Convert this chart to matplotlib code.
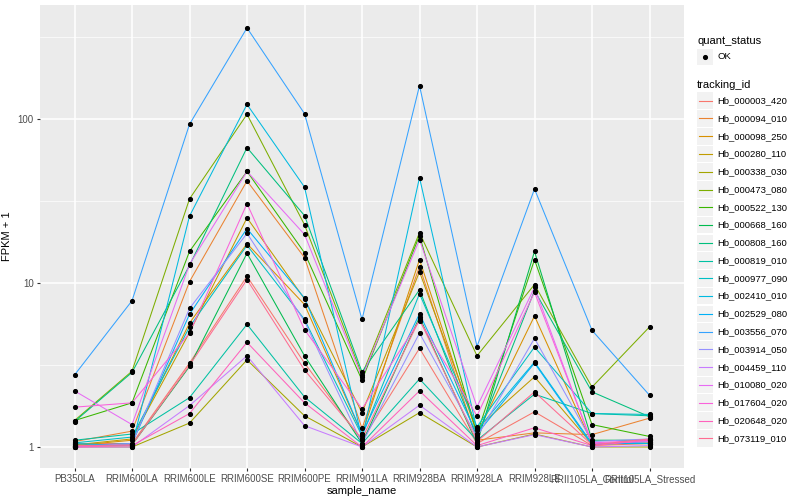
import matplotlib
matplotlib.use("Agg")
import matplotlib.pyplot as plt
from matplotlib.patches import Rectangle
from matplotlib.lines import Line2D

plt.rcParams['font.family'] = ['Liberation Sans', 'DejaVu Sans']

# samples on the x axis
samples = ["PB350LA", "RRIM600LA", "RRIM600LE", "RRIM600SE", "RRIM600PE", "RRIM901LA",
           "RRIM928BA", "RRIM928LA", "RRIM928LE", "RRII105LA_Control", "RRII105LA_Stressed"]

tracking_ids = ["Hb_000003_420", "Hb_000094_010", "Hb_000098_250", "Hb_000280_110",
                "Hb_000338_030", "Hb_000473_080", "Hb_000522_130", "Hb_000668_160",
                "Hb_000808_160", "Hb_000819_010", "Hb_000977_090", "Hb_002410_010",
                "Hb_002529_080", "Hb_003556_070", "Hb_003914_050", "Hb_004459_110",
                "Hb_010080_020", "Hb_017604_020", "Hb_020648_020", "Hb_073119_010"]

# ggplot default hue palette for 20 levels
colors = ["#F8766D", "#EA8331", "#D89000", "#C09B00", "#A3A500", "#7CAE00", "#39B600",
          "#00BB4E", "#00BF7D", "#00C1A3", "#00BFC4", "#00BAE0", "#00B0F6", "#35A2FF",
          "#9590FF", "#C77CFF", "#E76BF3", "#FA62DB", "#FF62BC", "#FF6C91"]

# FPKM + 1 per gene (same order as samples)
hb_000003_420 = [1.05, 1.05, 3.25, 11.0, 3.25, 1.10, 4.0, 1.05, 1.64, 1.02, 1.05]
hb_000094_010 = [1.08, 1.25, 10.2, 42.0, 14.3, 1.30, 12.6, 1.10, 1.22, 1.19, 1.50]
hb_000098_250 = [1.02, 1.10, 5.7, 17.4, 7.4, 1.20, 13.9, 1.20, 6.3, 1.05, 1.05]
hb_000280_110 = [1.03, 1.12, 5.0, 25.0, 8.0, 1.62, 11.7, 1.30, 2.68, 1.04, 1.06]
hb_000338_030 = [1.00, 1.00, 1.4, 3.4, 1.55, 1.00, 1.62, 1.00, 1.20, 1.00, 1.00]
hb_000473_080 = [1.45, 2.90, 32.6, 107.0, 22.7, 2.75, 20.3, 3.60, 9.8, 2.32, 5.40]
hb_000522_130 = [1.45, 1.86, 15.6, 48.0, 15.3, 2.56, 19.5, 1.20, 13.9, 1.37, 1.16]
hb_000668_160 = [1.02, 1.03, 3.1, 15.2, 3.6, 1.05, 6.2, 1.05, 15.6, 1.10, 1.10]
hb_000808_160 = [1.43, 2.85, 12.8, 67.0, 25.8, 2.87, 9.1, 1.15, 9.0, 2.17, 1.53]
hb_000819_010 = [1.10, 1.20, 2.0, 5.6, 2.02, 1.05, 2.6, 1.10, 2.10, 1.60, 1.55]
hb_000977_090 = [1.06, 1.15, 5.4, 17.0, 6.0, 1.17, 8.6, 1.33, 4.07, 1.60, 1.58]
hb_002410_010 = [1.05, 1.02, 25.6, 123.0, 38.5, 1.12, 44.0, 1.27, 3.3, 1.05, 1.05]
hb_002529_080 = [1.02, 1.05, 6.45, 21.5, 8.1, 1.20, 6.5, 1.20, 3.25, 1.03, 1.08]
hb_003556_070 = [2.75, 7.8, 93.0, 360.0, 108.0, 6.0, 160.0, 4.10, 37.5, 5.15, 2.07]
hb_003914_050 = [1.00, 1.05, 7.0, 20.1, 5.85, 1.05, 4.95, 1.15, 4.6, 1.08, 1.12]
hb_004459_110 = [1.00, 1.00, 1.79, 3.6, 1.35, 1.00, 1.80, 1.00, 1.19, 1.00, 1.02]
hb_010080_020 = [2.20, 1.37, 13.0, 48.0, 19.8, 2.67, 18.4, 1.76, 9.4, 1.05, 1.08]
hb_017604_020 = [1.75, 1.86, 4.95, 30.5, 5.2, 1.71, 5.9, 1.55, 8.8, 1.06, 1.10]
hb_020648_020 = [1.00, 1.02, 1.6, 4.35, 1.86, 1.00, 2.2, 1.02, 1.31, 1.02, 1.10]
hb_073119_010 = [1.02, 1.03, 3.15, 10.5, 2.95, 1.12, 6.0, 1.08, 2.17, 1.03, 1.12]

fpkm = [hb_000003_420, hb_000094_010, hb_000098_250, hb_000280_110, hb_000338_030,
        hb_000473_080, hb_000522_130, hb_000668_160, hb_000808_160, hb_000819_010,
        hb_000977_090, hb_002410_010, hb_002529_080, hb_003556_070, hb_003914_050,
        hb_004459_110, hb_010080_020, hb_017604_020, hb_020648_020, hb_073119_010]

fig = plt.figure(figsize=(8, 5), dpi=100)
ax = fig.add_axes([0.05, 0.064, 0.805, 0.926])
ax.set_facecolor("#EBEBEB")

xs = list(range(len(samples)))
for vals, col in zip(fpkm, colors):
    ax.plot(xs, vals, color=col, lw=0.75, zorder=3)
for vals in fpkm:
    ax.plot(xs, vals, ls="none", marker="o", ms=2.7, color="black", zorder=4)

ax.set_yscale("log")
ax.set_ylim(10 ** -0.128, 10 ** 2.696)
ax.set_xlim(-0.6, len(samples) - 0.4)
ax.set_yticks([1, 10, 100])
ax.set_yticklabels(["1", "10", "100"])
ax.set_yticks([10 ** 0.5, 10 ** 1.5, 10 ** 2.5], minor=True)
ax.yaxis.set_minor_formatter(plt.NullFormatter())
ax.set_xticks(xs)
ax.set_xticklabels(samples)

ax.grid(True, which="major", color="white", lw=1.1)
ax.grid(True, which="minor", axis="y", color="white", lw=0.5)
ax.set_axisbelow(True)
for s in ax.spines.values():
    s.set_visible(False)
ax.tick_params(which="major", length=2.5, width=0.8, color="#333333",
               labelsize=7, labelcolor="#4D4D4D", pad=2)
ax.tick_params(which="minor", length=0)
ax.set_xlabel("sample_name", fontsize=8, labelpad=1.5)
ax.set_ylabel("FPKM + 1", fontsize=8, labelpad=4)

# legend, drawn in pixel coordinates
lg = fig.add_axes([0, 0, 1, 1], facecolor="none")
lg.set_xlim(0, 800)
lg.set_ylim(500, 0)
lg.axis("off")
lg.text(697, 41, "quant_status", fontsize=8, va="center", ha="left")
lg.add_patch(Rectangle((697, 48.5), 16, 16, color="#F2F2F2", lw=0))
lg.plot([705], [56.5], marker="o", ms=2.7, color="black")
lg.text(717, 56.5, "OK", fontsize=6.8, va="center", ha="left")
lg.text(697, 85, "tracking_id", fontsize=8, va="center", ha="left")
step = 17.77
for i, (name, col) in enumerate(zip(tracking_ids, colors)):
    yc = 100.7 + i * step
    lg.add_patch(Rectangle((697, yc - 8.3), 16, 16.6, color="#F2F2F2", lw=0))
    lg.add_line(Line2D([698.5, 711.5], [yc, yc], color=col, lw=0.8))
    lg.text(717, yc, name, fontsize=6.8, va="center", ha="left")

fig.savefig("out.png", dpi=100)
